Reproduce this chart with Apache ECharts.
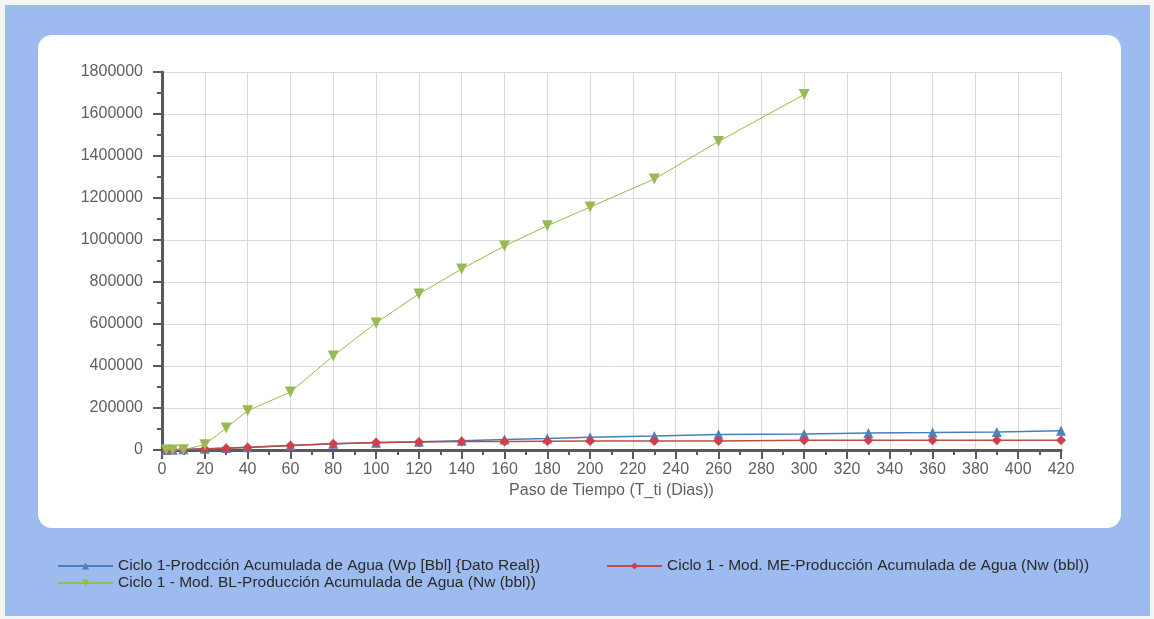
<!DOCTYPE html>
<html>
<head>
<meta charset="utf-8">
<script src="https://cdn.jsdelivr.net/npm/echarts@6/dist/echarts.min.js"></script>
<style>
  html, body { margin: 0; padding: 0; background: #f4f4f4; }
  #chart { width: 1154px; height: 619px; }
</style>
</head>
<body>
<div id="chart"></div>
<script>
// Time steps (days)
const tiempo = [2, 5, 10, 20, 30, 40, 60, 80, 100, 120, 140, 160, 180, 200, 230, 260, 300, 330, 360, 390, 420];
const tiempoBL = [2, 5, 10, 20, 30, 40, 60, 80, 100, 120, 140, 160, 180, 200, 230, 260, 300];

// Cumulative water production (bbl)
const wpReal = [500, 1500, 3000, 6000, 9000, 13000, 22000, 30000, 35000, 39000, 44000, 50000, 55000, 61000, 67000, 74000, 76000, 81000, 83000, 86000, 92000];
const nwME = [300, 1000, 2000, 5000, 8000, 12000, 22000, 30000, 36000, 38000, 40000, 41000, 42000, 43000, 43000, 43000, 46000, 47000, 47000, 47000, 47000];
const nwBL = [0, 500, 1500, 25000, 105000, 187000, 276000, 448000, 605000, 743000, 862000, 971000, 1068000, 1157000, 1290000, 1469000, 1693000];

const nombres = [
  'Ciclo 1-Prodcción Acumulada de Agua (Wp [Bbl] {Dato Real})',
  'Ciclo 1 - Mod. ME-Producción Acumulada de Agua (Nw (bbl))',
  'Ciclo 1 - Mod. BL-Producción Acumulada de Agua (Nw (bbl))'
];

const pares = (xs, ys) => xs.map((x, i) => [x, ys[i]]);

const txt = '#5f5f5f';
const axisCol = '#5a5a5a';
const gridCol = '#d9d9d9';
const font = '"Liberation Sans", Arial, sans-serif';

const legendBase = {
  orient: 'horizontal',
  itemWidth: 55,
  itemHeight: 9,
  itemGap: 4,
  textStyle: { color: '#2a2a2a', fontSize: 15.5, fontFamily: font },
  padding: 0
};

const chart = echarts.init(document.getElementById('chart'));
chart.setOption({
  backgroundColor: 'transparent',
  animation: false,
  graphic: [
    { type: 'rect', z: -10, shape: { x: 5, y: 5, width: 1145, height: 611 }, style: { fill: '#9dbbef' } },
    { type: 'rect', z: -9, shape: { x: 38, y: 35, width: 1083, height: 493, r: 14 }, style: { fill: '#ffffff' } }
  ],
  grid: { left: 162, top: 72, right: 93, bottom: 169, containLabel: false },
  legend: [
    Object.assign({}, legendBase, { data: [nombres[0]], left: 57, top: 558 }),
    Object.assign({}, legendBase, { data: [nombres[1]], left: 606, top: 558 }),
    Object.assign({}, legendBase, { data: [nombres[2]], left: 57, top: 575 })
  ],
  xAxis: {
    type: 'value',
    min: 0,
    max: 420,
    interval: 20,
    name: 'Paso de Tiempo (T_ti (Dias))',
    nameLocation: 'middle',
    nameGap: 30,
    nameTextStyle: { color: txt, fontSize: 16, fontFamily: font },
    axisLine: { show: true, onZero: false, lineStyle: { color: axisCol, width: 3 } },
    axisTick: { show: true, length: 9, lineStyle: { color: axisCol, width: 2 } },
    minorTick: { show: true, splitNumber: 2, length: 5, lineStyle: { color: axisCol, width: 2 } },
    axisLabel: { color: txt, fontSize: 16, fontFamily: font, margin: 12 },
    splitLine: { show: true, lineStyle: { color: gridCol, width: 1 } }
  },
  yAxis: {
    type: 'value',
    min: 0,
    max: 1800000,
    interval: 200000,
    axisLine: { show: true, lineStyle: { color: axisCol, width: 3 } },
    axisTick: { show: true, length: 9, lineStyle: { color: axisCol, width: 2 } },
    minorTick: { show: true, splitNumber: 2, length: 5, lineStyle: { color: axisCol, width: 2 } },
    axisLabel: { color: txt, fontSize: 16, fontFamily: font, margin: 19, formatter: v => String(v) },
    splitLine: { show: true, lineStyle: { color: gridCol, width: 1 } }
  },
  series: [
    {
      name: nombres[0],
      type: 'line',
      data: pares(tiempo, wpReal),
      symbol: 'triangle',
      symbolSize: 10,
      showAllSymbol: true,
      itemStyle: { color: '#4f81bd' },
      lineStyle: { color: '#4a7ebb', width: 1.5 },
      z: 2
    },
    {
      name: nombres[1],
      type: 'line',
      data: pares(tiempo, nwME),
      symbol: 'diamond',
      symbolSize: 10,
      showAllSymbol: true,
      itemStyle: { color: '#d0404a' },
      lineStyle: { color: '#be4b48', width: 1.5 },
      z: 3
    },
    {
      name: nombres[2],
      type: 'line',
      data: pares(tiempoBL, nwBL),
      symbol: 'triangle',
      symbolRotate: 180,
      symbolSize: 11,
      showAllSymbol: true,
      itemStyle: { color: '#98b954' },
      lineStyle: { color: '#98b954', width: 1 },
      z: 4
    }
  ]
});
</script>
</body>
</html>
